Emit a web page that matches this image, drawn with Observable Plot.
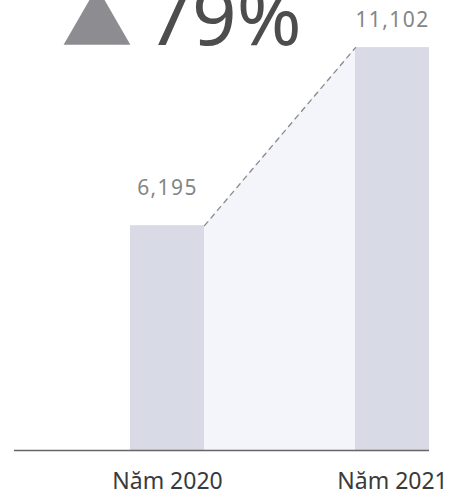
<!DOCTYPE html>
<html>
<head>
<meta charset="utf-8">
<script src="https://cdn.jsdelivr.net/npm/d3@7"></script>
<script src="https://cdn.jsdelivr.net/npm/@observablehq/plot@0.6"></script>
<style>
  html, body { margin: 0; padding: 0; background: #fff; }
  .vlabel text { letter-spacing: 1.4px; }
</style>
</head>
<body>
<div id="chart"></div>
<script>
const years = [2020, 2021];
const categoryLabels = ["Năm 2020", "Năm 2021"];
const values = [6195, 11102];

const data = years.map((y, i) => ({year: y, label: categoryLabels[i], value: values[i]}));
const HALF = 0.1644; // half bar width, in years
const growth = d3.format(".0%")(values[1] / values[0] - 1);
const gap = [
  {x: years[0] + HALF, y: values[0]},
  {x: years[1] - HALF, y: values[1]}
];

const chart = Plot.plot({
  width: 453,
  height: 499,
  marginLeft: 14,
  marginRight: 24,
  marginTop: 0,
  marginBottom: 49,
  style: {fontFamily: "'Noto Sans', sans-serif", background: "#fff", overflow: "hidden"},
  x: {type: "linear", domain: [2019.32, 2021 + HALF]},
  y: {domain: [0, 12400], axis: null},
  marks: [
    Plot.areaY(gap, {x: "x", y: "y", fill: "#f3f5fa"}),
    Plot.rectY(data, {x1: d => d.year - HALF, x2: d => d.year + HALF, y: "value", fill: "#d8dbe5"}),
    Plot.lineY(gap, {x: "x", y: "y", stroke: "#8a8a8a", strokeWidth: 1.3, strokeDasharray: "5,5"}),
    Plot.ruleY([0], {stroke: "#666", strokeWidth: 1.5}),
    Plot.text(data.filter(d => d.year === 2020), {x: "year", y: "value", text: d => d3.format(",")(d.value), dy: -37, fill: "#858585", fontSize: 21, className: "vlabel"}),
    Plot.text(data.filter(d => d.year === 2021), {x: "year", y: "value", text: d => d3.format(",")(d.value), dy: -27, fill: "#858585", fontSize: 21, className: "vlabel"}),
    Plot.axisX({ticks: years, tickFormat: d => categoryLabels[years.indexOf(d)], tickSize: 0, fontSize: 23, fill: "#3a3a3a", dy: 13, label: null}),
    Plot.dot([growth], {frameAnchor: "top-left", dx: 82.5, dy: 25, symbol: "triangle", r: 24.8, fill: "#8d8d91", stroke: "none"}),
    Plot.text([growth], {frameAnchor: "top-left", dx: 133, dy: -11, text: d => d, textAnchor: "start", fontSize: 78, fill: "#4d4d4d"})
  ]
});
document.getElementById("chart").appendChild(chart);
</script>
</body>
</html>
